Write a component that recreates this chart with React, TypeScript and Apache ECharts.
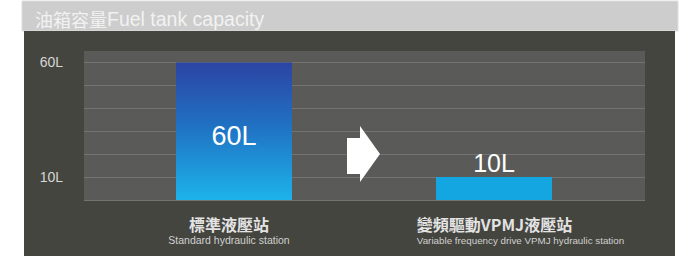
import React, { useEffect, useRef } from "react";
import * as echarts from "echarts";

const categoriesCN = ["標準液壓站", "變頻驅動VPMJ液壓站"];
const categoriesEN = ["Standard hydraulic station", "Variable frequency drive VPMJ hydraulic station"];
const capacities = [60, 10];
const yLabelValues = [10, 60];
const titleCN = "油箱容量";
const titleEN = "Fuel tank capacity";

export default function App() {
  const ref = useRef<HTMLDivElement>(null);
  useEffect(() => {
    if (!ref.current) return;
    const chart = echarts.init(ref.current, null, { renderer: "svg" });
    const grad = new echarts.graphic.LinearGradient(0, 0, 0, 1, [
      { offset: 0, color: "#2c44a3" },
      { offset: 0.45, color: "#2070c2" },
      { offset: 1, color: "#1db3ea" },
    ]);
    const gridLine = "#737471";
    chart.setOption({
      animation: false,
      backgroundColor: "#ffffff",
      title: {
        text: `{cn|${titleCN}}{en|${titleEN}}`,
        left: 35,
        top: 8,
        padding: 0,
        textStyle: {
          fontWeight: "normal",
          rich: {
            cn: { fontSize: 18, fontWeight: "normal", color: "#f2f2f2", fontFamily: "Noto Sans CJK TC", lineHeight: 21 },
            en: { fontSize: 19.5, fontWeight: "normal", color: "#f2f2f2", fontFamily: "Liberation Sans", lineHeight: 21 },
          },
        },
      },
      graphic: [
        { type: "rect", z: -10, shape: { x: 22, y: 1, width: 656, height: 30 }, style: { fill: "#cdcdcd", stroke: "#dedede", lineWidth: 1 } },
        { type: "rect", z: -9, shape: { x: 24, y: 31, width: 651, height: 225 }, style: { fill: "#45453f" } },
        {
          type: "polygon",
          z: 100,
          shape: { points: [[347, 138], [360, 138], [360, 126], [380, 154], [360, 182], [360, 174], [347, 174]] },
          style: { fill: "#ffffff" },
        },
      ],
      grid: [
        { left: 84, top: 51, width: 561, height: 149, show: true, backgroundColor: "#5a5b58", borderWidth: 0 },
        { left: 104, top: 51, width: 520, height: 149 },
      ],
      xAxis: [
        { type: "category", gridIndex: 0, data: categoriesCN, show: false },
        {
          type: "category",
          gridIndex: 1,
          data: categoriesCN,
          axisLine: { show: false },
          axisTick: { show: false },
          axisLabel: {
            margin: 14,
            interval: 0,
            formatter: (v: string, i: number) => `{c${i}|${categoriesCN[i]}}\n{e${i}|${categoriesEN[i]}}`,
            rich: {
              c0: { fontSize: 16, fontWeight: "bold", color: "#e3e3e3", fontFamily: "Noto Sans CJK TC", lineHeight: 19, padding: [0, 10, 0, 0] },
              e0: { fontSize: 10.5, color: "#d0d0d0", fontFamily: "Liberation Sans", lineHeight: 14, padding: [0, 10, 0, 0] },
              c1: { fontSize: 16, fontWeight: "bold", color: "#e3e3e3", fontFamily: "Noto Sans CJK TC", lineHeight: 19, align: "left", padding: [0, 0, 0, 53] },
              e1: { fontSize: 9.8, color: "#d0d0d0", fontFamily: "Liberation Sans", lineHeight: 14, align: "left", padding: [0, 0, 0, 53] },
            },
          },
        },
      ],
      yAxis: [
        {
          type: "value",
          gridIndex: 0,
          min: 0,
          max: 65,
          interval: 10,
          axisLine: { show: false },
          axisTick: { show: false },
          axisLabel: {
            margin: 21,
            fontSize: 14,
            color: "#d6d6d6",
            fontFamily: "Liberation Sans",
            formatter: (v: number) => (yLabelValues.indexOf(v) >= 0 ? `${v}L` : ""),
          },
          splitLine: {
            lineStyle: {
              color: [gridLine, gridLine, gridLine, gridLine, gridLine, gridLine, gridLine, "rgba(0,0,0,0)"],
              width: 1,
            },
          },
        },
        { type: "value", gridIndex: 1, min: 0, max: 65, show: false, splitLine: { show: false } },
      ],
      series: [
        {
          type: "bar",
          xAxisIndex: 1,
          yAxisIndex: 1,
          barWidth: 116,
          data: capacities.map((v, i) =>
            i === 0
              ? {
                  value: v,
                  itemStyle: { color: grad },
                  label: { show: true, position: "inside", offset: [0, 5], fontSize: 27, color: "#ffffff", fontFamily: "Liberation Sans", formatter: "{c}L" },
                }
              : {
                  value: v,
                  itemStyle: { color: "#14a6e0" },
                  label: { show: true, position: "top", distance: 2, fontSize: 25, color: "#ffffff", fontFamily: "Liberation Sans", formatter: "{c}L" },
                }
          ),
        },
      ],
    });
    return () => chart.dispose();
  }, []);
  return <div ref={ref} style={{ position: "absolute", left: 0, top: 0, width: 683, height: 256 }} />;
}
